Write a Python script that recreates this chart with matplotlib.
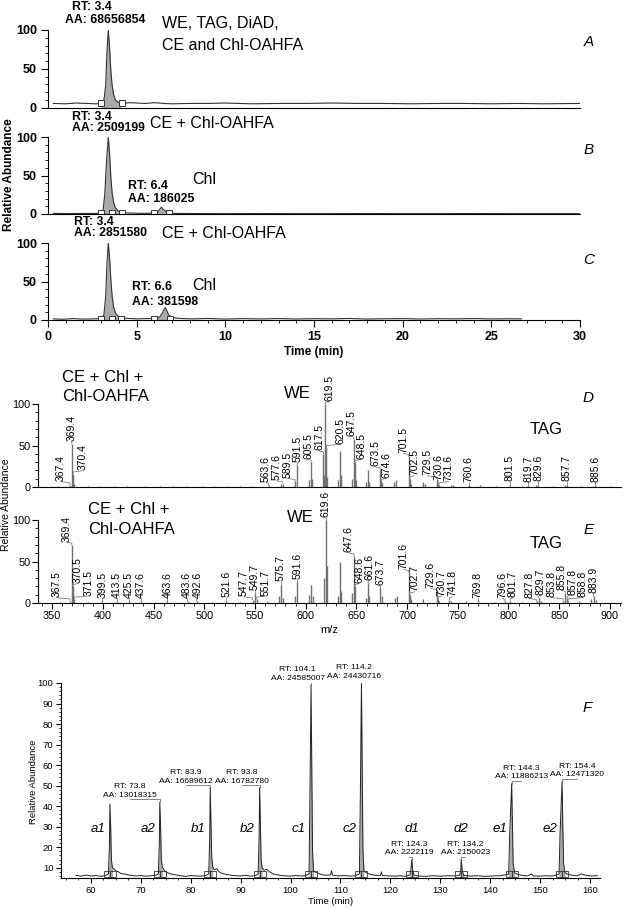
import numpy as np
import matplotlib.pyplot as plt
from matplotlib.ticker import MultipleLocator

plt.rcParams['font.family'] = ['Liberation Sans', 'DejaVu Sans']

# ---- chromatograms A-C (time in min, relative abundance) ----
a_time = [0.3, 1.0, 1.6, 2.2, 2.7, 3.0, 3.15, 3.25, 3.32, 3.4, 3.47, 3.55, 3.62, 3.7, 3.8, 3.95, 4.1, 4.3,
          4.6, 5.0, 5.5, 6.0, 6.5, 7.0, 8.0, 9.0, 10.0, 11.5, 13.0, 14.5, 16.0, 17.5, 19.0, 20.5, 22.0,
          23.5, 25.0, 26.5, 28.0, 30.0]
a_abund = [5.5, 5.0, 6.0, 5.5, 5.0, 5.5, 9, 28, 70, 100, 78, 45, 28, 17, 10, 7, 6, 5.5,
           6.5, 6.0, 5.5, 6.5, 5.5, 5.0, 5.5, 5.5, 6.0, 5.0, 5.5, 5.5, 6.0, 5.5, 5.5, 5.0, 5.5,
           5.5, 5.0, 5.5, 5.0, 5.5]
a_box = [3.0, 4.2]

b_time = [0.3, 1.0, 2.0, 2.8, 3.1, 3.2, 3.3, 3.4, 3.47, 3.55, 3.62, 3.7, 3.8, 3.95, 4.1, 4.4, 5.0,
          5.6, 6.0, 6.2, 6.3, 6.4, 6.5, 6.65, 6.8, 7.2, 8.0, 10.0, 12.0, 14.0, 16.0, 18.0, 20.0,
          22.0, 24.0, 26.0, 28.0, 30.0]
b_abund = [0.8, 0.5, 0.7, 0.8, 3, 25, 68, 100, 80, 45, 27, 15, 8, 4, 2, 1.5, 1.0,
           0.8, 1.5, 3, 6, 9, 6, 3, 1.5, 0.8, 0.6, 0.5, 0.6, 0.5, 0.5, 0.6, 0.5,
           0.5, 0.6, 0.5, 0.5, 0.5]
b_box = [3.0, 3.6, 4.2, 6.0, 6.8]

c_time = [0.3, 0.8, 1.4, 2.0, 2.6, 3.0, 3.15, 3.25, 3.33, 3.4, 3.47, 3.55, 3.62, 3.7, 3.8, 3.95, 4.1,
          4.4, 5.0, 5.5, 6.0, 6.3, 6.45, 6.55, 6.62, 6.7, 6.8, 6.95, 7.2, 7.6, 8.2, 9.0, 10.0, 11.0,
          12.0, 13.0, 14.0, 15.0, 16.0, 17.0, 18.0, 19.0, 20.0, 21.0, 22.0, 23.0, 24.0, 25.0, 26.0, 26.7]
c_abund = [1.5, 1.0, 1.8, 1.2, 1.5, 2.0, 6, 30, 75, 100, 82, 50, 30, 17, 9, 5, 3,
           2.2, 1.5, 1.8, 2.0, 4, 9, 14, 16, 12, 7, 4, 2.5, 1.8, 1.5, 2.0, 1.2, 1.8,
           1.4, 1.9, 1.3, 1.7, 1.5, 2.0, 1.2, 1.6, 1.8, 1.3, 1.7, 1.5, 1.9, 1.4, 1.6, 1.5]
c_box = [3.0, 3.6, 4.1, 6.0, 6.9]

# ---- mass spectra D and E (m/z, relative abundance) ----
d_mz = [367.4, 369.4, 370.4, 563.6, 577.6, 589.5, 591.5, 605.5, 617.5, 619.5, 620.5, 647.5, 648.5,
        673.5, 674.6, 701.5, 702.5, 729.5, 730.6, 731.6, 760.6, 801.5, 819.7, 829.6, 857.7, 885.6]
d_int = [3, 52, 16, 2, 4, 7, 26, 30, 40, 100, 48, 58, 30,
         21, 7, 37, 10, 10, 4, 3, 2, 3, 2, 3, 3, 2]
d_other_mz = [355.3, 362.4, 371.4, 385.4, 397.5, 411.4, 423.5, 441.5, 456.5, 469.5, 481.5, 497.5,
              509.5, 523.5, 535.5, 547.5, 575.6, 603.5, 606.5, 618.5, 621.5, 631.5, 633.5, 634.5,
              645.5, 649.5, 659.5, 661.5, 662.5, 675.5, 687.5, 689.5, 703.5, 715.5, 717.5, 743.6,
              745.6, 771.6, 787.6, 813.6, 827.6, 843.7, 855.7, 871.7, 899.7]
d_other_int = [1, 1, 4, 1, 1, 1.5, 1, 1, 1, 1.5, 1, 1, 1, 1.5, 1, 1.5, 4, 8, 10, 15, 12, 8, 43, 15,
               10, 9, 6, 20, 6, 5, 6, 8, 4, 6, 4, 3, 2, 2, 1.5, 1.5, 2, 1.5, 2, 1.5, 1]

e_mz = [367.5, 369.4, 370.5, 371.5, 399.5, 413.5, 425.5, 437.6, 463.6, 483.6, 492.6, 521.6, 547.7,
        549.7, 551.7, 575.7, 591.6, 619.6, 647.6, 648.6, 661.6, 673.7, 701.6, 702.7, 729.6, 730.7,
        741.8, 769.8, 796.6, 801.7, 827.8, 829.7, 853.8, 855.8, 857.8, 858.8, 883.9]
e_int = [3, 70, 20, 5, 2, 2, 2, 2, 2, 2, 2, 3, 4,
         12, 5, 22, 25, 100, 57, 20, 24, 18, 37, 10, 14, 5,
         4, 2, 2, 3, 2, 6, 3, 12, 6, 3, 8]
e_other_mz = [357.5, 385.5, 451.6, 507.6, 535.6, 561.7, 573.7, 577.7, 589.6, 603.6, 605.6, 607.6,
              617.6, 620.6, 631.6, 633.6, 634.6, 645.6, 659.6, 662.6, 675.7, 687.7, 689.7, 703.7,
              715.7, 731.7, 743.7, 757.8, 785.8, 813.8, 831.7, 869.8, 881.8, 885.9]
e_other_int = [1, 1, 1, 1, 1.5, 2, 8, 6, 8, 10, 22, 8, 30, 45, 9, 49, 15, 12, 6, 8, 8, 6, 8, 5,
               5, 3, 3, 2, 1.5, 1.5, 3, 2, 5, 4]

# ---- chromatogram F ----
f_time = [57.0, 58.0, 59.0, 60.0, 61.0, 62.0, 63.0, 63.5, 63.7, 63.8, 63.95, 64.1, 64.3, 64.6, 65.0,
          65.5, 66.0, 67.0, 68.0, 69.0, 70.0, 71.0, 72.0, 73.0, 73.5, 73.7, 73.8, 73.95, 74.1, 74.3,
          74.6, 75.0, 75.5, 76.0, 77.0, 78.0, 79.0, 80.0, 81.0, 82.0, 83.0, 83.6, 83.8, 83.9, 84.05,
          84.2, 84.4, 84.7, 85.2, 85.6, 86.0, 87.0, 88.0, 89.0, 90.0, 91.0, 92.0, 93.0, 93.5, 93.7,
          93.8, 93.95, 94.1, 94.3, 94.7, 95.2, 95.8, 96.5, 97.5, 98.5, 100.0, 101.0, 102.0, 103.0,
          103.7, 103.9, 104.1, 104.25, 104.4, 104.6, 105.0, 106.0, 107.0, 108.0, 108.2, 108.4, 109.5,
          111.0, 112.0, 113.0, 113.8, 114.0, 114.2, 114.35, 114.5, 114.7, 115.2, 116.0, 117.0, 118.0,
          118.2, 118.4, 120.0, 121.0, 122.0, 123.0, 123.9, 124.1, 124.3, 124.45, 124.7, 125.5, 127.0,
          128.5, 130.0, 131.5, 133.0, 133.9, 134.1, 134.2, 134.4, 134.7, 136.0, 137.5, 139.0, 140.5,
          142.0, 143.7, 143.9, 144.3, 144.45, 144.6, 144.9, 145.5, 146.5, 147.5, 148.3, 148.6, 150.0,
          151.0, 152.5, 153.8, 154.0, 154.4, 154.55, 154.7, 155.0, 155.6, 156.5, 157.5, 158.3, 158.8,
          160.0, 161.5]
f_abund = [6.3, 5.9, 6.4, 6.0, 6.2, 5.8, 6.3, 7.0, 20, 41, 30, 14, 10, 9.5, 8.5,
           8.0, 7.2, 6.8, 6.3, 6.0, 6.2, 5.9, 6.1, 6.3, 7.0, 22, 42, 30, 14, 10.5,
           9.0, 8.0, 7.4, 7.0, 6.5, 6.1, 5.8, 6.2, 6.0, 5.9, 6.2, 7.0, 25, 49, 32,
           15, 10.5, 9.0, 9.5, 8.2, 7.5, 6.8, 6.4, 6.1, 6.0, 6.3, 5.9, 6.2, 7.0, 25,
           49, 32, 14, 10, 8.8, 9.2, 8.0, 7.0, 6.5, 6.1, 5.9, 6.2, 6.0, 6.1,
           7.0, 50, 99, 60, 18, 8.5, 7.8, 6.8, 6.3, 6.5, 8.5, 6.4, 6.0,
           6.2, 5.9, 6.1, 7.0, 50, 100, 60, 18, 8.5, 7.5, 6.8, 6.3, 6.2,
           8.0, 6.2, 6.0, 5.9, 6.1, 5.8, 6.5, 9.0, 14, 9.0, 6.5, 6.0, 5.8,
           6.1, 5.9, 6.1, 6.0, 6.4, 9.0, 14, 8.5, 6.3, 5.9, 6.1, 5.8, 6.0,
           6.1, 6.8, 26, 51, 30, 12, 7.5, 6.8, 6.2, 6.0, 7.0, 6.0, 5.9,
           6.1, 6.0, 6.8, 27, 52, 30, 12, 7.5, 6.8, 6.3, 6.1, 7.0, 6.5,
           6.0, 6.1]
f_box = [63.2, 64.4, 73.2, 74.4, 83.3, 84.5, 93.2, 94.4, 103.5, 104.7, 113.6, 114.8,
         123.7, 124.9, 133.6, 134.8, 143.7, 144.9, 153.8, 155.0]
f_rt = [73.8, 83.9, 93.8, 104.1, 114.2, 124.3, 134.2, 144.3, 154.4]
f_aa = ['13018315', '16689612', '16782780', '24585007', '24430716', '2222119', '2150023',
        '11886213', '12471320']
f_names = ['a1', 'a2', 'b1', 'b2', 'c1', 'c2', 'd1', 'd2', 'e1', 'e2']
f_name_rt = [63.8, 73.8, 83.9, 93.8, 104.1, 114.2, 124.3, 134.2, 144.3, 154.4]

W, H = 625, 909
fig = plt.figure(figsize=(W / 100, H / 100), dpi=100)


def box(l, t, r, b):
    return [l / W, 1 - b / H, (r - l) / W, (b - t) / H]


def ftext(x, y, s, **kw):
    fig.text(x / W, 1 - y / H, s, **kw)


def style(ax, bold=False, size=9, length=5, pad=3):
    for s in ['top', 'right']:
        ax.spines[s].set_visible(False)
    ax.tick_params(which='major', length=length, width=0.8, labelsize=size, direction='out', pad=pad)
    ax.tick_params(which='minor', length=length / 2, width=0.6, direction='out')
    if bold:
        for lab in ax.get_xticklabels() + ax.get_yticklabels():
            lab.set_fontweight('bold')


def spread(xs, gap):
    xs = np.array(xs, float)
    for _ in range(300):
        moved = False
        for i in range(len(xs) - 1):
            d = xs[i + 1] - xs[i]
            if d < gap - 1e-6:
                s = (gap - d) / 2
                xs[i] -= s
                xs[i + 1] += s
                moved = True
        if not moved:
            break
    return xs


def chrom(ax, t, y, boxes, windows):
    t = np.array(t)
    y = np.array(y)
    ax.plot(t, y, color='#333333', lw=0.8)
    for lo, hi in windows:
        m = (t >= lo) & (t <= hi)
        ax.fill_between(t[m], 0, y[m], color='#aaaaaa', lw=0)
    bx = np.array(boxes)
    ax.plot(bx, np.full(len(bx), np.median(y)), 's', ms=5, mfc='white', mec='#333333', mew=0.7)


# ---------------- A, B, C ----------------
rows = [(30, 107.7), (137, 214), (243, 320)]
axes = []
for top, bot in rows:
    ax = fig.add_axes(box(48, top, 580, bot))
    ax.set_xlim(0, 30)
    ax.set_ylim(0, 100)
    ax.yaxis.set_major_locator(MultipleLocator(50))
    ax.yaxis.set_minor_locator(MultipleLocator(10))
    ax.xaxis.set_major_locator(MultipleLocator(5))
    ax.xaxis.set_minor_locator(MultipleLocator(1))
    axes.append(ax)
axA, axB, axC = axes
chrom(axA, a_time, a_abund, a_box, [(3.0, 4.2)])
chrom(axB, b_time, b_abund, b_box, [(3.0, 4.2), (6.0, 6.8)])
chrom(axC, c_time, c_abund, c_box, [(3.0, 4.1), (6.0, 6.9)])
for ax in (axA, axB):
    ax.tick_params(axis='x', which='both', bottom=False, labelbottom=False)
axC.set_xlabel('Time (min)', fontsize=8.5, fontweight='bold', labelpad=2)
for ax in axes:
    style(ax, bold=True, size=9)

lab = dict(fontsize=8.8, fontweight='bold', va='center', ha='left', clip_on=False)
axA.text(1.35, 129, 'RT: 3.4', **lab)
axA.text(0.95, 113, 'AA: 68656854', **lab)
axB.text(1.35, 126, 'RT: 3.4', **lab)
axB.text(1.35, 112, 'AA: 2509199', **lab)
axB.text(4.5, 36, 'RT: 6.4', **lab)
axB.text(4.5, 20, 'AA: 186025', **lab)
axC.text(1.45, 127, 'RT: 3.4', **lab)
axC.text(1.45, 113, 'AA: 2851580', **lab)
axC.text(4.75, 43, 'RT: 6.6', **lab)
axC.text(4.75, 24, 'AA: 381598', **lab)

big = dict(fontsize=11.5, va='center', ha='left')
ftext(162, 24, 'WE, TAG, DiAD,', **big)
ftext(162, 45, 'CE and Chl-OAHFA', **big)
ftext(150, 123, 'CE + Chl-OAHFA', **big)
ftext(192, 180, 'Chl', **big)
ftext(162, 233, 'CE + Chl-OAHFA', **big)
ftext(192, 285, 'Chl', **big)

letter = dict(fontsize=11, fontstyle='italic', va='center', ha='center')
ftext(589, 42, 'A', **letter)
ftext(589, 150, 'B', **letter)
ftext(589, 260, 'C', **letter)
ftext(9, 175, 'Relative Abundance', fontsize=8.5, fontweight='bold', rotation=90,
      va='center', ha='center')


# ---------------- D, E ----------------
def spectrum(ax, mz, inten, omz, oint):
    ax.vlines(omz, 0, oint, color='#707070', lw=1.0)
    ax.vlines(mz, 0, inten, color='#707070', lw=1.0)
    lx = spread(mz, 10.5)
    for m, h, x in zip(mz, inten, lx):
        y0 = h + 4
        ax.plot([m, m, x], [h, h + 2, y0 - 0.5], color='#666666', lw=0.5, clip_on=False)
        ax.text(x, y0, '%.1f' % m, rotation=90, fontsize=7.5, ha='center', va='bottom',
                clip_on=False)


axD = fig.add_axes(box(38, 404, 621, 487))
axE = fig.add_axes(box(38, 520, 621, 603))
for ax in (axD, axE):
    ax.set_xlim(336, 911)
    ax.set_ylim(0, 100)
    ax.yaxis.set_major_locator(MultipleLocator(50))
    ax.yaxis.set_minor_locator(MultipleLocator(10))
    ax.xaxis.set_major_locator(MultipleLocator(50))
    ax.xaxis.set_minor_locator(MultipleLocator(10))
spectrum(axD, d_mz, d_int, d_other_mz, d_other_int)
spectrum(axE, e_mz, e_int, e_other_mz, e_other_int)
axD.tick_params(axis='x', which='both', bottom=False, labelbottom=False)
axE.set_xlabel('m/z', fontsize=8, labelpad=3)
for ax in (axD, axE):
    style(ax, size=7.8, length=4, pad=1.5)

big = dict(fontsize=12, va='center', ha='left')
ftext(62, 377, 'CE + Chl +', **big)
ftext(62, 397, 'Chl-OAHFA', **big)
ftext(284, 393, 'WE', **big)
ftext(530, 430, 'TAG', **big)
ftext(88, 510, 'CE + Chl +', **big)
ftext(88, 530, 'Chl-OAHFA', **big)
ftext(287, 517, 'WE', **big)
ftext(530, 543, 'TAG', **big)
ftext(588, 398, 'D', **letter)
ftext(589, 530, 'E', **letter)
ftext(6, 505, 'Relative Abundance', fontsize=7.5, rotation=90, va='center', ha='center')

# ---------------- F ----------------
axF = fig.add_axes(box(61, 683, 600, 878))
axF.set_xlim(54, 162)
axF.set_ylim(5, 100)
axF.xaxis.set_major_locator(MultipleLocator(10))
axF.xaxis.set_minor_locator(MultipleLocator(2.5))
axF.yaxis.set_major_locator(MultipleLocator(10))
axF.yaxis.set_minor_locator(MultipleLocator(2))
ft = np.array(f_time)
fy = np.array(f_abund)
axF.plot(ft, fy, color='#222222', lw=0.7)
fb = np.array(f_box)
for lo, hi in zip(fb[0::2], fb[1::2]):
    m = (ft >= lo) & (ft <= hi)
    axF.fill_between(ft[m], 5, fy[m], color='#aaaaaa', lw=0)
axF.plot(fb, np.full(len(fb), np.median(fy)), 's', ms=5, mfc='none', mec='#333333', mew=0.6)
f_lab_x = spread(np.array(f_rt) - 1.5, 11.2)
for rt, aa, x in zip(f_rt, f_aa, f_lab_x):
    h = np.interp(rt, ft, fy)
    axF.plot([x, rt, rt], [h + 1.3, h + 1.3, h], color='#555555', lw=0.5)
    axF.text(x, h + 1.5, 'RT: %.1f\nAA: %s' % (rt, aa), fontsize=6.1, ha='center',
             va='bottom', linespacing=1.3)
for name, rt in zip(f_names, f_name_rt):
    h = np.interp(rt, ft, fy)
    x = rt - 2.4 if h > 30 else rt
    axF.text(x, 29, name, fontsize=9.5, fontstyle='italic', ha='center', va='center')
axF.set_xlabel('Time (min)', fontsize=6.8, labelpad=1.5)
style(axF, size=6.8, length=3.5, pad=2)
ftext(587, 708, 'F', **letter)
ftext(34, 782, 'Relative Abundance', fontsize=6.8, rotation=90, va='center', ha='center')

fig.savefig('out.png', dpi=100)
